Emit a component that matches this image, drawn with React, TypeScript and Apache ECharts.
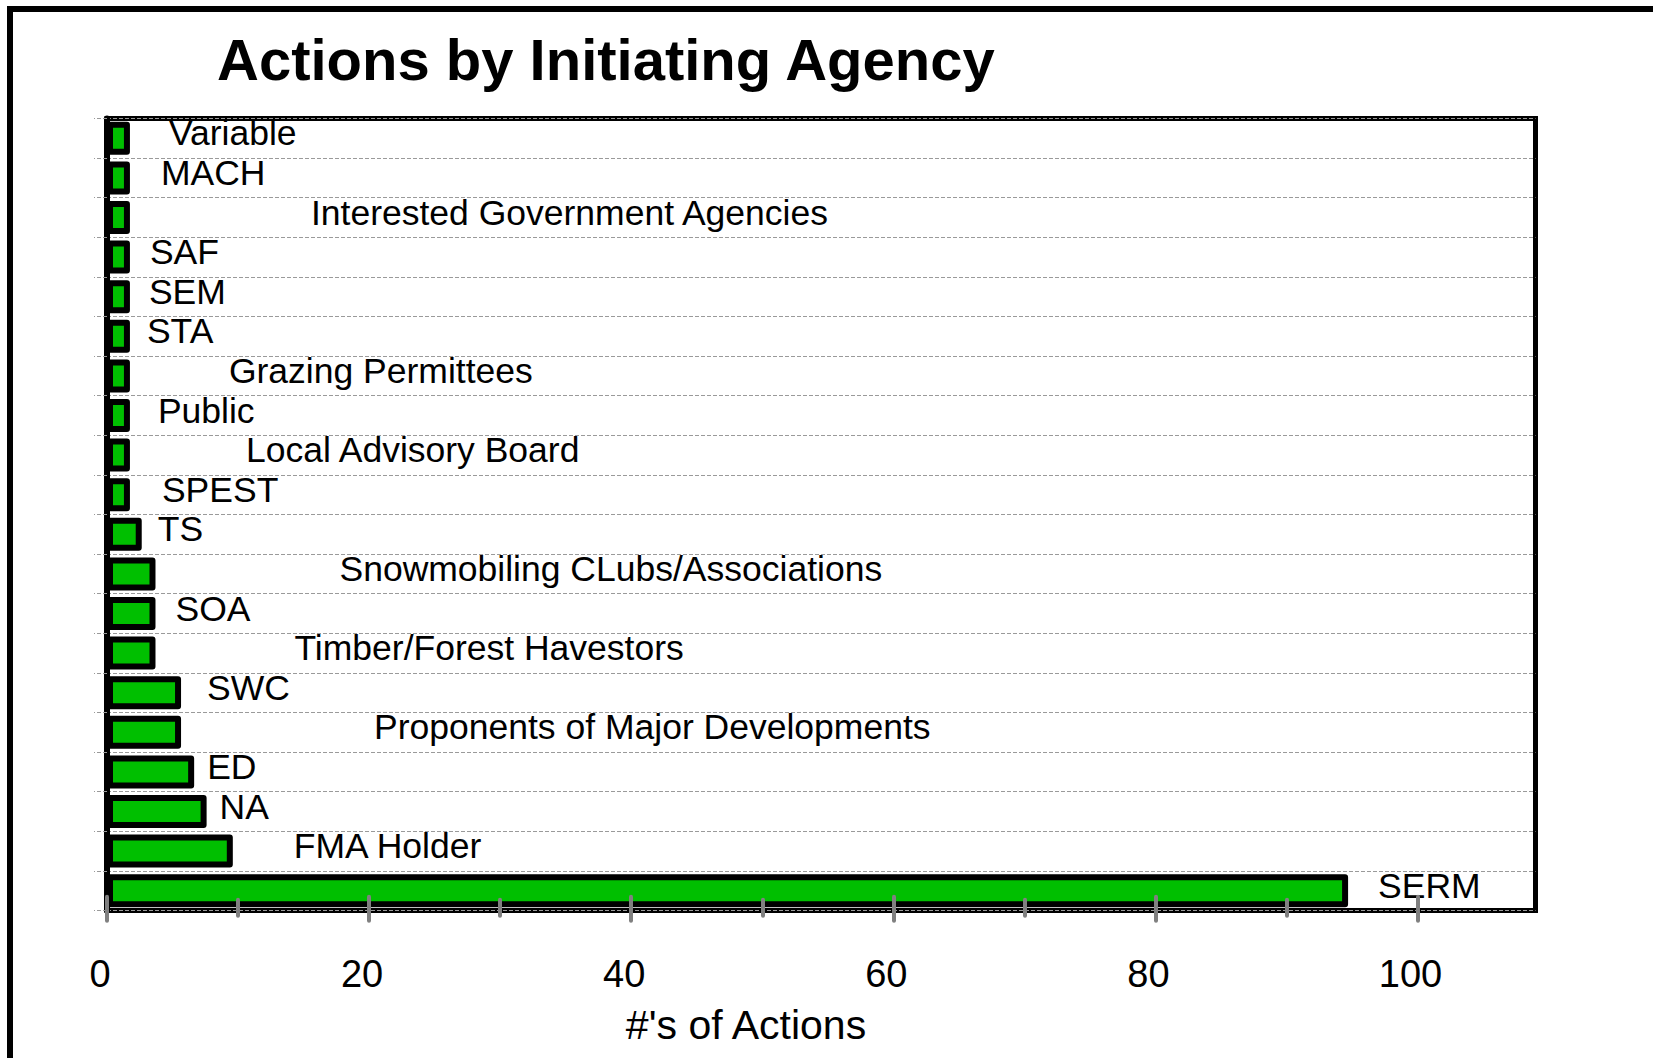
import React, { useEffect, useRef } from "react";
import * as echarts from "echarts";

// Categories listed from the bottom of the chart to the top
const categories = [
  "SERM",
  "FMA Holder",
  "NA",
  "ED",
  "Proponents of Major Developments",
  "SWC",
  "Timber/Forest Havestors",
  "SOA",
  "Snowmobiling CLubs/Associations",
  "TS",
  "SPEST",
  "Local Advisory Board",
  "Public",
  "Grazing Permittees",
  "STA",
  "SEM",
  "SAF",
  "Interested Government Agencies",
  "MACH",
  "Variable",
];

const actionCounts = [
  94.7, 9.6, 7.6, 6.65, 5.65, 5.65, 3.7, 3.7, 3.7, 2.65,
  1.75, 1.75, 1.75, 1.75, 1.75, 1.75, 1.75, 1.75, 1.75, 1.75,
];

const majorTicks = [0, 20, 40, 60, 80, 100];
const minorTicks = [10, 30, 50, 70, 90];

// Label horizontal gap (px) after each bar end – layout only
const labelGaps = [
  30, 61, 13, 13, 193, 26, 139, 20, 184, 16,
  32, 116, 28, 99, 17, 19, 20, 181, 31, 39,
];

const FONT = "'Liberation Sans', Arial, Helvetica, sans-serif";
const AXIS_MAX = 109;

export default function App() {
  const ref = useRef<HTMLDivElement>(null);

  useEffect(() => {
    if (!ref.current) return;
    const chart = echarts.init(ref.current, null, { renderer: "svg" });

    const gridRect = { left: 107, top: 118.5, right: 117.5, bottom: 147.5 };

    const option: any = {
      animation: false,
      backgroundColor: "#ffffff",
      grid: [
        {
          ...gridRect,
          show: true,
          borderColor: "#000000",
          borderWidth: 5,
          backgroundColor: "transparent",
          containLabel: false,
        },
        { ...gridRect, show: false, containLabel: false },
      ],
      xAxis: [
        {
          type: "value",
          gridIndex: 0,
          min: 0,
          max: AXIS_MAX,
          interval: 20,
          position: "bottom",
          offset: -13.7,
          z: 10,
          axisLine: { show: false },
          splitLine: { show: false },
          axisTick: {
            show: true,
            inside: false,
            length: 24,
            customValues: majorTicks,
            lineStyle: { color: "#808080", width: 4, cap: "round" },
          },
          axisLabel: {
            show: true,
            customValues: majorTicks,
            margin: 58,
            color: "#000000",
            fontSize: 38,
            fontFamily: FONT,
            padding: [0, 14, 0, 0],
            formatter: (v: number) => (v % 20 === 0 ? String(v) : ""),
          },
        },
        {
          type: "value",
          gridIndex: 1,
          min: 0,
          max: AXIS_MAX,
          interval: 10,
          position: "bottom",
          offset: -10.7,
          z: 10,
          axisLine: { show: false },
          splitLine: { show: false },
          axisLabel: { show: false },
          axisTick: {
            show: true,
            inside: false,
            length: 16,
            customValues: minorTicks,
            lineStyle: { color: "#808080", width: 4, cap: "round" },
          },
        },
      ],
      yAxis: [
        {
          type: "category",
          gridIndex: 0,
          data: categories,
          boundaryGap: true,
          axisLine: { show: true, lineStyle: { color: "#000000", width: 6 } },
          axisTick: {
            show: true,
            inside: false,
            length: 13,
            lineStyle: { color: "#9a9a9a", width: 1, type: [4, 2] },
          },
          axisLabel: { show: false },
          splitLine: {
            show: true,
            lineStyle: { color: "#9a9a9a", width: 1, type: [4, 2] },
          },
        },
        { type: "value", gridIndex: 1, show: false, min: 0, max: 1 },
      ],
      series: [
        {
          type: "bar",
          xAxisIndex: 0,
          yAxisIndex: 0,
          barWidth: 33,
          z: 2,
          itemStyle: {
            color: "#00bf00",
            borderColor: "#000000",
            borderWidth: 6,
            borderJoin: "round",
          },
          label: {
            show: true,
            position: "right",
            distance: 0,
            formatter: "{b}",
            color: "#000000",
            fontSize: 35.5,
            fontFamily: FONT,
          },
          data: actionCounts.map((v, i) => ({
            value: v,
            label: { offset: [labelGaps[i], -5] },
          })),
        },
      ],
      graphic: [
        {
          type: "rect",
          silent: true,
          shape: { x: 10, y: 9, width: 1700, height: 1100 },
          style: { fill: "none", stroke: "#000000", lineWidth: 6 },
        },
        {
          type: "text",
          silent: true,
          x: 217,
          y: 59,
          style: {
            text: "Actions by Initiating Agency",
            fill: "#000000",
            font: `bold 58px ${FONT}`,
            textAlign: "left",
            textVerticalAlign: "middle",
          },
        },
        {
          type: "text",
          silent: true,
          x: 746,
          y: 1025,
          style: {
            text: "#'s of Actions",
            fill: "#000000",
            font: `41px ${FONT}`,
            textAlign: "center",
            textVerticalAlign: "middle",
          },
        },
      ],
    };

    chart.setOption(option);
    return () => chart.dispose();
  }, []);

  return (
    <div
      ref={ref}
      style={{
        position: "fixed",
        left: 0,
        top: 0,
        width: "1653px",
        height: "1058px",
        background: "#ffffff",
      }}
    />
  );
}
